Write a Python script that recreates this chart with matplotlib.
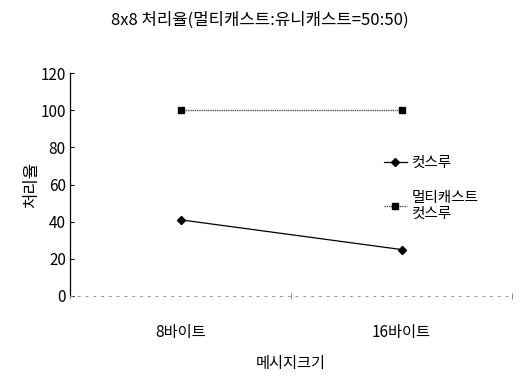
import matplotlib.pyplot as plt

plt.rcParams['font.family'] = ['Noto Sans CJK KR', 'DejaVu Sans']

categories = ['8바이트', '16바이트']
cut_through = [41, 25]
multicast_cut_through = [100, 100]
y_ticks = [0, 20, 40, 60, 80, 100, 120]

fig = plt.figure(figsize=(5.19, 3.8), dpi=100)
ax = fig.add_axes([70 / 519, 84 / 380, 442 / 519, 223 / 380])

x = range(len(categories))
ax.plot(x, cut_through, color='black', lw=0.9, marker='D', ms=4,
        label='컷스루')
ax.plot(x, multicast_cut_through, color='#555555', lw=1.0, ls=(0, (1, 0.6)),
        marker='s', ms=5, mfc='black', mec='black', label='멀티캐스트\n컷스루')

ax.set_xlim(-0.5, len(categories) - 0.5)
ax.set_ylim(0, 120)
ax.set_yticks(y_ticks)
ax.set_xticks(x)
ax.set_xticklabels(categories, fontsize=11)
ax.tick_params(axis='y', labelsize=11, length=3, width=0.8, direction='in', pad=3)
ax.tick_params(axis='x', length=0, pad=20)

# category boundary ticks on the x axis
ax.set_xticks([-0.5, 0.5, 1.5], minor=True)
ax.tick_params(axis='x', which='minor', length=5, direction='inout', color='#777777')

for side in ['top', 'right']:
    ax.spines[side].set_visible(False)
ax.spines['left'].set_linewidth(0.9)
ax.spines['bottom'].set_color('#999999')
ax.spines['bottom'].set_linestyle((0, (2, 6)))
ax.spines['bottom'].set_linewidth(0.7)

ax.set_ylabel('처리율', fontsize=12)
ax.yaxis.set_label_coords(-0.068, 0.5)
ax.set_xlabel('메시지크기', fontsize=11, labelpad=10)
fig.suptitle('8x8 처리율(멀티캐스트:유니캐스트=50:50)', fontsize=12, y=0.97)

ax.legend(loc='upper left', bbox_to_anchor=(0.68, 0.685), frameon=False,
          fontsize=10.5, handlelength=1.6, labelspacing=1.4, handletextpad=0.3)

fig.savefig('out.png', dpi=100)
